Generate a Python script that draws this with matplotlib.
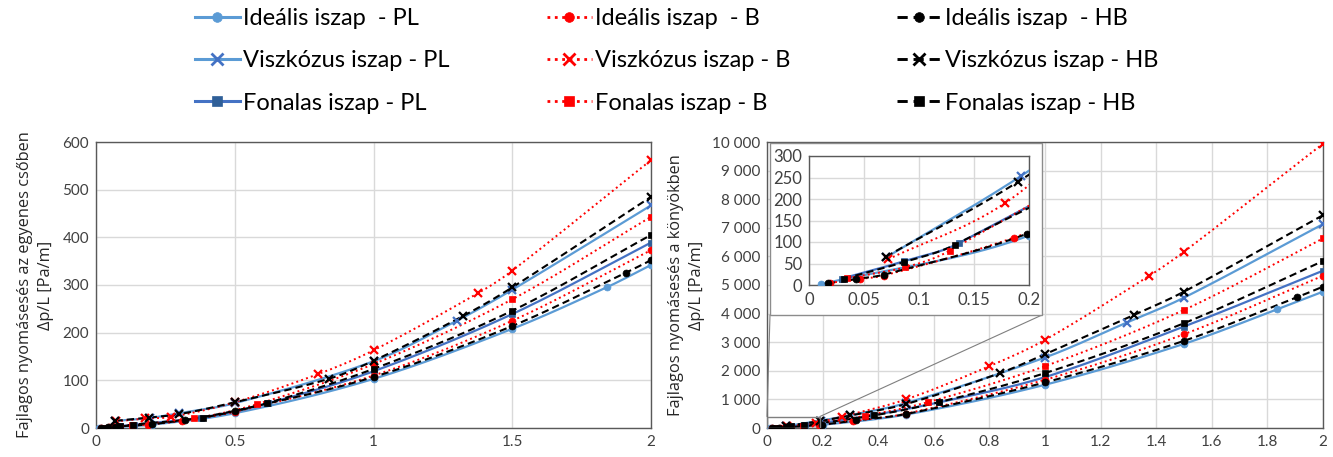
import numpy as np
import matplotlib
matplotlib.use('Agg')
import matplotlib.pyplot as plt
from matplotlib.lines import Line2D
from matplotlib.patches import Rectangle, ConnectionPatch
from matplotlib.ticker import FuncFormatter, MultipleLocator

# ---- adatok: egyenes cső (bal) ----
st_id_pl_x = [0.011, 0.2, 0.5, 1.0, 1.5, 1.84, 2.0]
st_id_pl_y = [0.5, 7, 31, 103, 208, 295, 342]
st_id_b_x = [0.019, 0.046, 0.068, 0.186, 0.31, 0.5, 1.0, 1.5, 2.0]
st_id_b_y = [1, 2, 3, 7, 15, 34, 110, 225, 373]
st_id_hb_x = [0.017, 0.043, 0.068, 0.2, 0.32, 0.5, 1.0, 1.5, 1.91, 2.0]
st_id_hb_y = [1, 2, 3, 8, 17, 36, 107, 214, 326, 352]

st_vi_pl_x = [0.07, 0.193, 0.3, 0.5, 1.0, 1.3, 1.5, 2.0]
st_vi_pl_y = [15, 21, 31, 52, 140, 225, 290, 467]
st_vi_b_x = [0.072, 0.178, 0.27, 0.5, 0.8, 1.0, 1.377, 1.5, 2.0]
st_vi_b_y = [14, 20, 23, 54, 113, 163, 283, 330, 562]
st_vi_hb_x = [0.07, 0.19, 0.3, 0.5, 0.838, 1.0, 1.323, 1.5, 2.0]
st_vi_hb_y = [15, 22, 29, 54, 103, 141, 235, 295, 485]

st_fo_pl_x = [0.03, 0.086, 0.136, 0.38, 0.62, 1.0, 1.5, 2.0]
st_fo_pl_y = [1, 4, 7, 22, 52, 119, 239, 389]
st_fo_b_x = [0.035, 0.087, 0.128, 0.354, 0.58, 1.0, 1.5, 2.0]
st_fo_b_y = [1, 3, 6, 20, 50, 134, 270, 443]
st_fo_hb_x = [0.032, 0.086, 0.133, 0.385, 0.615, 1.0, 1.5, 2.0]
st_fo_hb_y = [1, 4, 7, 22, 52, 124, 246, 405]

# ---- adatok: könyök (jobb) ----
el_id_pl_x = [0.011, 0.2, 0.5, 1.0, 1.5, 1.836, 2.0]
el_id_pl_y = [2, 115, 470, 1512, 2942, 4151, 4767]
el_id_b_x = [0.019, 0.046, 0.068, 0.186, 0.31, 0.5, 1.0, 1.5, 2.0]
el_id_b_y = [5, 14, 22, 110, 240, 500, 1686, 3279, 5326]
el_id_hb_x = [0.017, 0.043, 0.068, 0.198, 0.32, 0.5, 1.0, 1.5, 1.906, 2.0]
el_id_hb_y = [4, 14, 24, 119, 267, 488, 1593, 3047, 4570, 4942]

el_vi_pl_x = [0.07, 0.193, 0.3, 0.5, 1.0, 1.294, 1.5, 2.0]
el_vi_pl_y = [64, 254, 450, 870, 2465, 3686, 4558, 7128]
el_vi_b_x = [0.072, 0.178, 0.27, 0.5, 0.8, 1.0, 1.374, 1.5, 2.0]
el_vi_b_y = [60, 190, 400, 1000, 2163, 3081, 5314, 6163, 9942]
el_vi_hb_x = [0.07, 0.19, 0.3, 0.5, 0.838, 1.0, 1.32, 1.5, 2.0]
el_vi_hb_y = [66, 240, 440, 837, 1919, 2581, 3953, 4767, 7442]

el_fo_pl_x = [0.03, 0.086, 0.136, 0.38, 0.62, 1.0, 1.5, 2.0]
el_fo_pl_y = [15, 55, 97, 450, 900, 1779, 3547, 5500]
el_fo_b_x = [0.035, 0.087, 0.128, 0.354, 0.58, 1.0, 1.5, 2.0]
el_fo_b_y = [16, 41, 80, 430, 907, 2163, 4128, 6628]
el_fo_hb_x = [0.032, 0.086, 0.133, 0.385, 0.62, 1.0, 1.5, 2.0]
el_fo_hb_y = [15, 53, 94, 440, 907, 1919, 3663, 5837]

labels = ['Ideális iszap  - PL', 'Viszkózus iszap - PL', 'Fonalas iszap - PL',
          'Ideális iszap  - B', 'Viszkózus iszap - B', 'Fonalas iszap - B',
          'Ideális iszap  - HB', 'Viszkózus iszap - HB', 'Fonalas iszap - HB']

# stílusok: (vonalszín, vonaltípus, vastagság, marker, markerszín, méret)
styles = [
    ('#5B9BD5', '-', 1.6, 'o', '#5B9BD5', 5),
    ('#5B9BD5', '-', 1.6, 'x', '#4472C4', 6),
    ('#4472C4', '-', 1.6, 's', '#2F5F98', 4.5),
    ('#FF0000', ':', 1.4, 'o', '#FF0000', 5),
    ('#FF0000', ':', 1.4, 'x', '#FF0000', 6),
    ('#FF0000', ':', 1.4, 's', '#FF0000', 4.5),
    ('#000000', (0, (3.5, 2)), 1.5, 'o', '#000000', 5),
    ('#000000', (0, (3.5, 2)), 1.5, 'x', '#000000', 6),
    ('#000000', (0, (3.5, 2)), 1.5, 's', '#000000', 4.5),
]

straight = [(st_id_pl_x, st_id_pl_y), (st_vi_pl_x, st_vi_pl_y), (st_fo_pl_x, st_fo_pl_y),
            (st_id_b_x, st_id_b_y), (st_vi_b_x, st_vi_b_y), (st_fo_b_x, st_fo_b_y),
            (st_id_hb_x, st_id_hb_y), (st_vi_hb_x, st_vi_hb_y), (st_fo_hb_x, st_fo_hb_y)]
elbow = [(el_id_pl_x, el_id_pl_y), (el_vi_pl_x, el_vi_pl_y), (el_fo_pl_x, el_fo_pl_y),
         (el_id_b_x, el_id_b_y), (el_vi_b_x, el_vi_b_y), (el_fo_b_x, el_fo_b_y),
         (el_id_hb_x, el_id_hb_y), (el_vi_hb_x, el_vi_hb_y), (el_fo_hb_x, el_fo_hb_y)]


def smooth(x, y, n=25):
    # simított vonal a pontok között (Hermite, véges különbség meredekség)
    x = np.asarray(x, float)
    y = np.asarray(y, float)
    m = np.empty_like(y)
    m[1:-1] = (y[2:] - y[:-2]) / (x[2:] - x[:-2])
    m[0] = (y[1] - y[0]) / (x[1] - x[0])
    m[-1] = (y[-1] - y[-2]) / (x[-1] - x[-2])
    xs, ys = [x[0]], [y[0]]
    t = np.linspace(0, 1, n)[1:]
    for i in range(len(x) - 1):
        h = x[i + 1] - x[i]
        h00 = 2 * t ** 3 - 3 * t ** 2 + 1
        h10 = t ** 3 - 2 * t ** 2 + t
        h01 = -2 * t ** 3 + 3 * t ** 2
        h11 = t ** 3 - t ** 2
        xs.extend(x[i] + t * h)
        ys.extend(h00 * y[i] + h10 * h * m[i] + h01 * y[i + 1] + h11 * h * m[i + 1])
    return np.array(xs), np.array(ys)


def draw(ax, data):
    for (x, y), (lc, ls, lw, mk, mc, ms) in zip(data, styles):
        sx, sy = smooth(x, y)
        ax.plot(sx, sy, color=lc, linestyle=ls, linewidth=lw, zorder=3)
        ax.plot(x, y, linestyle='none', marker=mk, color=mc, markersize=ms,
                markeredgewidth=1.6 if mk == 'x' else 0.5, zorder=4)


def style_axes(ax, fs=11):
    ax.grid(True, color='#D9D9D9', linewidth=1)
    ax.set_axisbelow(True)
    for s in ax.spines.values():
        s.set_color('#595959')
        s.set_linewidth(1)
    ax.tick_params(length=0, labelsize=fs, colors='#404040', pad=5)
    for lab in ax.get_xticklabels() + ax.get_yticklabels():
        lab.set_fontfamily(['Lato', 'DejaVu Sans'])


fmt_g = FuncFormatter(lambda v, p: f'{v:g}')
fmt_k = FuncFormatter(lambda v, p: f'{int(v):,}'.replace(',', ' '))

fig = plt.figure(figsize=(13.33, 4.57), dpi=100)
W, H = 1333, 457

ax1 = fig.add_axes([96 / W, 1 - 428 / H, (651 - 96) / W, (428 - 142) / H])
ax2 = fig.add_axes([767 / W, 1 - 428 / H, (1323 - 767) / W, (428 - 142) / H])

draw(ax1, straight)
ax1.set_xlim(0, 2)
ax1.set_ylim(0, 600)
ax1.xaxis.set_major_locator(MultipleLocator(0.5))
ax1.yaxis.set_major_locator(MultipleLocator(100))
ax1.xaxis.set_major_formatter(fmt_g)
ax1.set_ylabel('Fajlagos nyomásesés az egyenes csőben\nΔp/L [Pa/m]',
               fontsize=11.8, family=['Open Sans', 'DejaVu Sans'], color='#262626',
               labelpad=6, linespacing=1.4)
style_axes(ax1)

draw(ax2, elbow)
ax2.set_xlim(0, 2)
ax2.set_ylim(0, 10000)
ax2.xaxis.set_major_locator(MultipleLocator(0.2))
ax2.yaxis.set_major_locator(MultipleLocator(1000))
ax2.xaxis.set_major_formatter(fmt_g)
ax2.yaxis.set_major_formatter(fmt_k)
ax2.set_ylabel('Fajlagos nyomásesés a könyökben\nΔp/L [Pa/m]',
               fontsize=11.8, family=['Open Sans', 'DejaVu Sans'], color='#262626',
               labelpad=5, linespacing=1.4)
style_axes(ax2)

# nagyított rész jelölése
ax2.add_patch(Rectangle((0, 0), 0.19, 400, fill=False, edgecolor='#7F7F7F', linewidth=1, zorder=5))
box = Rectangle((770 / W, 1 - 315 / H), (1042 - 770) / W, (315 - 143) / H,
                transform=fig.transFigure, facecolor='white', edgecolor='#8C8C8C',
                linewidth=1, zorder=2)
fig.patches.append(box)
for xa, xb in [(0, 770), (0.19, 1042)]:
    con = ConnectionPatch(xyA=(xa, 400), coordsA=ax2.transData,
                          xyB=(xb / W, 1 - 315 / H), coordsB=fig.transFigure,
                          color='#7F7F7F', linewidth=0.8)
    fig.add_artist(con)

ax3 = fig.add_axes([809 / W, 1 - 285 / H, (1029 - 809) / W, (285 - 156) / H])
ax3.set_zorder(3)
draw(ax3, elbow)
ax3.set_xlim(0, 0.2)
ax3.set_ylim(0, 300)
ax3.xaxis.set_major_locator(MultipleLocator(0.05))
ax3.yaxis.set_major_locator(MultipleLocator(50))
ax3.xaxis.set_major_formatter(fmt_g)
style_axes(ax3, fs=12)

# jelmagyarázat
handles = [Line2D([], [], color=lc, linestyle=ls, linewidth=lw + 0.6, marker=mk,
                  markerfacecolor=mc, markeredgecolor=mc, markersize=ms + 2,
                  markeredgewidth=2 if mk == 'x' else 0.5)
           for (lc, ls, lw, mk, mc, ms) in styles]
for c, xpos in enumerate([195, 547, 897]):
    fig.legend(handles[3 * c:3 * c + 3], labels[3 * c:3 * c + 3], loc='upper left',
               bbox_to_anchor=(xpos / W, 1 - 8 / H), frameon=False, borderpad=0,
               borderaxespad=0, handlelength=1.9, handletextpad=0.15, labelspacing=0.9,
               prop={'family': ['Lato', 'DejaVu Sans'], 'size': 17})

fig.savefig('out.png', dpi=100)
